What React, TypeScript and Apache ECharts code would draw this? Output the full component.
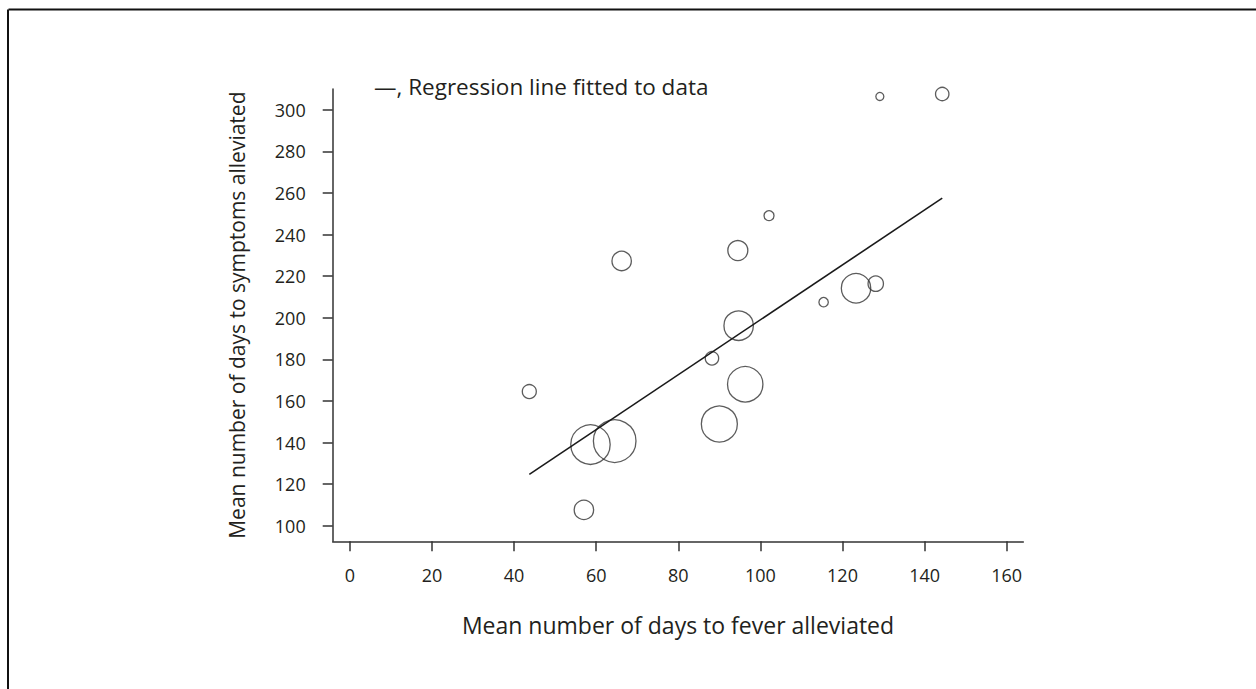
import React, { useEffect, useRef } from "react";
import * as echarts from "echarts";

// Mean days to fever alleviated (x), mean days to symptoms alleviated (y),
// and the drawn bubble diameter (relative study size) for each trial.
const feverDays = [66.2, 94.5, 94.7, 88.2, 96.3, 90.0, 43.7, 58.6, 64.5, 57.0, 129.1, 144.3, 102.1, 115.4, 123.3, 128.1];
const symptomDays = [227.3, 232.3, 196.2, 180.5, 168.0, 148.9, 164.5, 139.0, 140.7, 107.6, 306.4, 307.6, 249.1, 207.5, 214.2, 216.4];
const bubbleSize = [19.4, 20, 29.4, 13.4, 35.4, 36, 14, 39.4, 42.6, 19.4, 8, 13.4, 10, 9.4, 29.4, 15.4];

// Regression line end points (x, y)
const fitStart = [43.7, 124.7];
const fitEnd = [144.3, 257.5];

const xTicks = [0, 20, 40, 60, 80, 100, 120, 140, 160];
const yTicks = [100, 120, 140, 160, 180, 200, 220, 240, 260, 280, 300];

const xTitle = "Mean number of days to fever alleviated";
const yTitle = "Mean number of days to symptoms alleviated";
const legendText = "\u2014, Regression line fitted to data";

const INK = "#231f20";
const FONT = "'Open Sans', Lato, sans-serif";

export default function App() {
  const ref = useRef<HTMLDivElement>(null);

  useEffect(() => {
    if (!ref.current) return;
    const chart = echarts.init(ref.current, null, { renderer: "svg" });
    const points = feverDays.map((x, i) => [x, symptomDays[i], bubbleSize[i]]);

    chart.setOption({
      animation: false,
      backgroundColor: "#ffffff",
      textStyle: { fontFamily: FONT, color: INK },
      grid: { left: 332.7, right: 232.7, top: 89, bottom: 147.7, containLabel: false },
      xAxis: {
        type: "value",
        min: -4.2,
        max: 164.05,
        name: xTitle,
        nameLocation: "middle",
        nameGap: 72,
        nameTextStyle: { fontSize: 23, color: INK, fontFamily: FONT },
        axisLine: { show: true, onZero: false, lineStyle: { color: "#333", width: 1.5 } },
        axisTick: { show: true, customValues: xTicks, length: 10, lineStyle: { color: "#333", width: 1.5 } },
        axisLabel: { customValues: xTicks, fontSize: 18, color: INK, margin: 25, fontFamily: FONT },
        splitLine: { show: false },
      },
      yAxis: {
        type: "value",
        min: 92.5,
        max: 310,
        name: yTitle,
        nameLocation: "middle",
        nameGap: 85,
        nameTextStyle: { fontSize: 21, color: INK, fontFamily: FONT },
        axisLine: { show: true, onZero: false, lineStyle: { color: "#333", width: 1.5 } },
        axisTick: { show: true, customValues: yTicks, length: 10, lineStyle: { color: "#333", width: 1.5 } },
        axisLabel: { customValues: yTicks, fontSize: 18, color: INK, margin: 27, fontFamily: FONT },
        splitLine: { show: false },
      },
      series: [
        {
          type: "scatter",
          data: points,
          symbol: "circle",
          symbolSize: (v: number[]) => v[2],
          itemStyle: { color: "rgba(255,255,255,0)", borderColor: "#333", borderWidth: 1.3 },
          emphasis: { disabled: true },
          z: 3,
        },
        {
          type: "line",
          data: [fitStart, fitEnd],
          symbol: "none",
          lineStyle: { color: "#1a1a1a", width: 1.6 },
          emphasis: { disabled: true },
          z: 4,
        },
      ],
      graphic: [
        { type: "line", shape: { x1: 8.5, y1: 9.5, x2: 1262, y2: 9.5 }, style: { stroke: "#111", lineWidth: 2 } },
        { type: "line", shape: { x1: 8, y1: 9.5, x2: 8, y2: 700 }, style: { stroke: "#111", lineWidth: 2 } },
        {
          type: "text",
          left: 374,
          top: 75,
          style: { text: legendText, fontSize: 22.5, fill: INK, fontFamily: FONT },
        },
      ],
    });

    return () => chart.dispose();
  }, []);

  return (
    <div
      ref={ref}
      style={{ position: "fixed", left: 0, top: 0, width: 1256, height: 689, background: "#fff" }}
    />
  );
}
